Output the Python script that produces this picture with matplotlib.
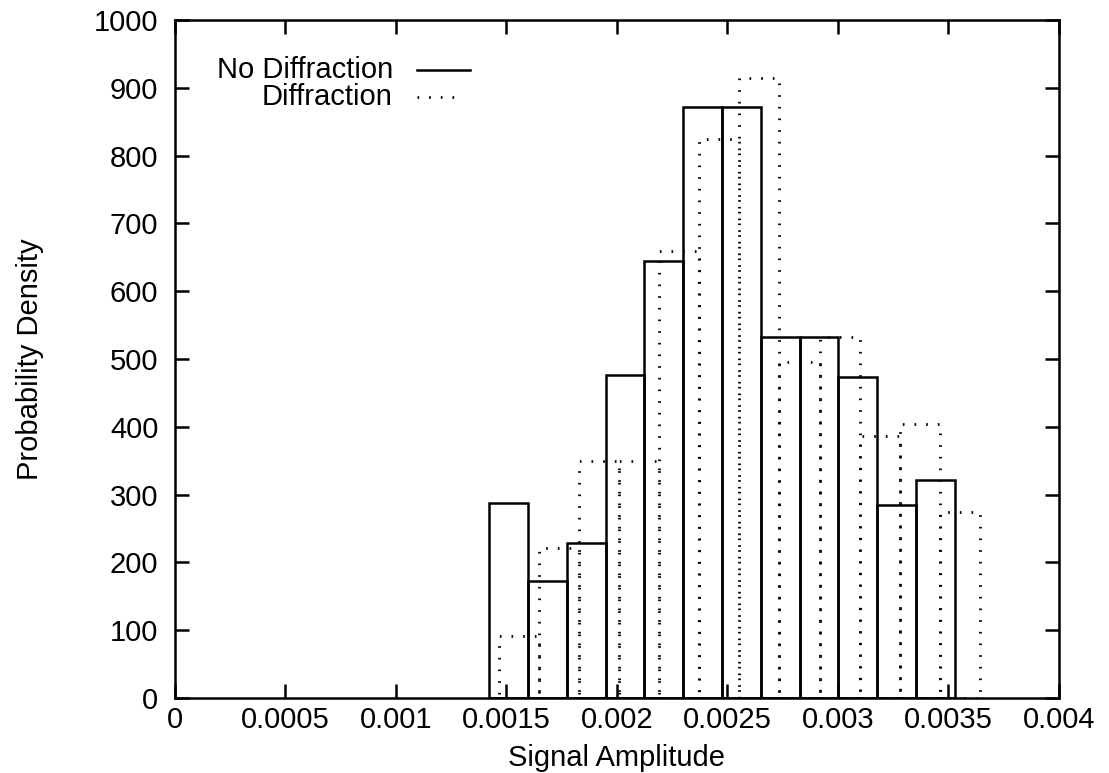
import matplotlib
matplotlib.use("Agg")
import matplotlib.pyplot as plt
from matplotlib.ticker import MultipleLocator

# histogram bins (left edge of each box)
no_diff_left = [0.001422, 0.0015975, 0.001773, 0.0019485, 0.002124, 0.0022995,
                0.002475, 0.0026505, 0.002826, 0.0030015, 0.003177, 0.0033525]
no_diff_width = 0.0001755
no_diff_density = [287, 172, 228, 476, 645, 871, 871, 532, 532, 473, 284, 322]

diff_left = [0.001466, 0.0016473, 0.0018286, 0.0020099, 0.0021912, 0.0023725,
             0.0025538, 0.0027351, 0.0029164, 0.0030977, 0.003279, 0.0034603]
diff_width = 0.0001813
diff_density = [92, 222, 349, 349, 660, 824, 915, 495, 532, 386, 404, 275]

x_ticks = [0, 0.0005, 0.001, 0.0015, 0.002, 0.0025, 0.003, 0.0035, 0.004]
x_tick_labels = ["0", "0.0005", "0.001", "0.0015", "0.002", "0.0025", "0.003", "0.0035", "0.004"]

plt.rcParams['font.family'] = ['Liberation Sans', 'DejaVu Sans']
plt.rcParams['font.size'] = 21

dotted = (0, (0.6, 3.6))

fig = plt.figure(figsize=(11.09, 7.73), dpi=100)
ax = fig.add_axes([0.1578, 0.0970, 0.7971, 0.8771])

ax.bar(no_diff_left, no_diff_density, width=no_diff_width, align='edge',
       fill=False, edgecolor='black', linewidth=1.8, linestyle='-')
ax.bar(diff_left, diff_density, width=diff_width, align='edge',
       fill=False, edgecolor='black', linewidth=2.0, linestyle=dotted)

ax.set_xlim(0, 0.004)
ax.set_ylim(0, 1000)
ax.set_xticks(x_ticks)
ax.set_xticklabels(x_tick_labels)
ax.yaxis.set_major_locator(MultipleLocator(100))

ax.tick_params(direction='in', length=10, width=1.8, top=True, right=True,
               labelsize=21)
ax.tick_params(axis='y', pad=12)
ax.tick_params(axis='x', pad=6)
for s in ax.spines.values():
    s.set_linewidth(1.8)

ax.set_xlabel('Signal Amplitude', fontsize=21, labelpad=7)
ax.set_ylabel('Probability Density', fontsize=21, labelpad=36)

# gnuplot style key: text right aligned, sample line after it
ax.text(0.2466, 0.9263, 'No Diffraction', transform=ax.transAxes,
        ha='right', va='center', fontsize=21)
ax.plot([0.2738, 0.3337], [0.9263, 0.9263], transform=ax.transAxes,
        color='black', linewidth=1.8)
ax.text(0.2466, 0.8869, 'Diffraction', transform=ax.transAxes,
        ha='right', va='center', fontsize=21)
ax.plot([0.2738, 0.3200], [0.8869, 0.8869], transform=ax.transAxes,
        color='black', linewidth=2.0, linestyle=dotted)

fig.savefig('out.png', dpi=100)
